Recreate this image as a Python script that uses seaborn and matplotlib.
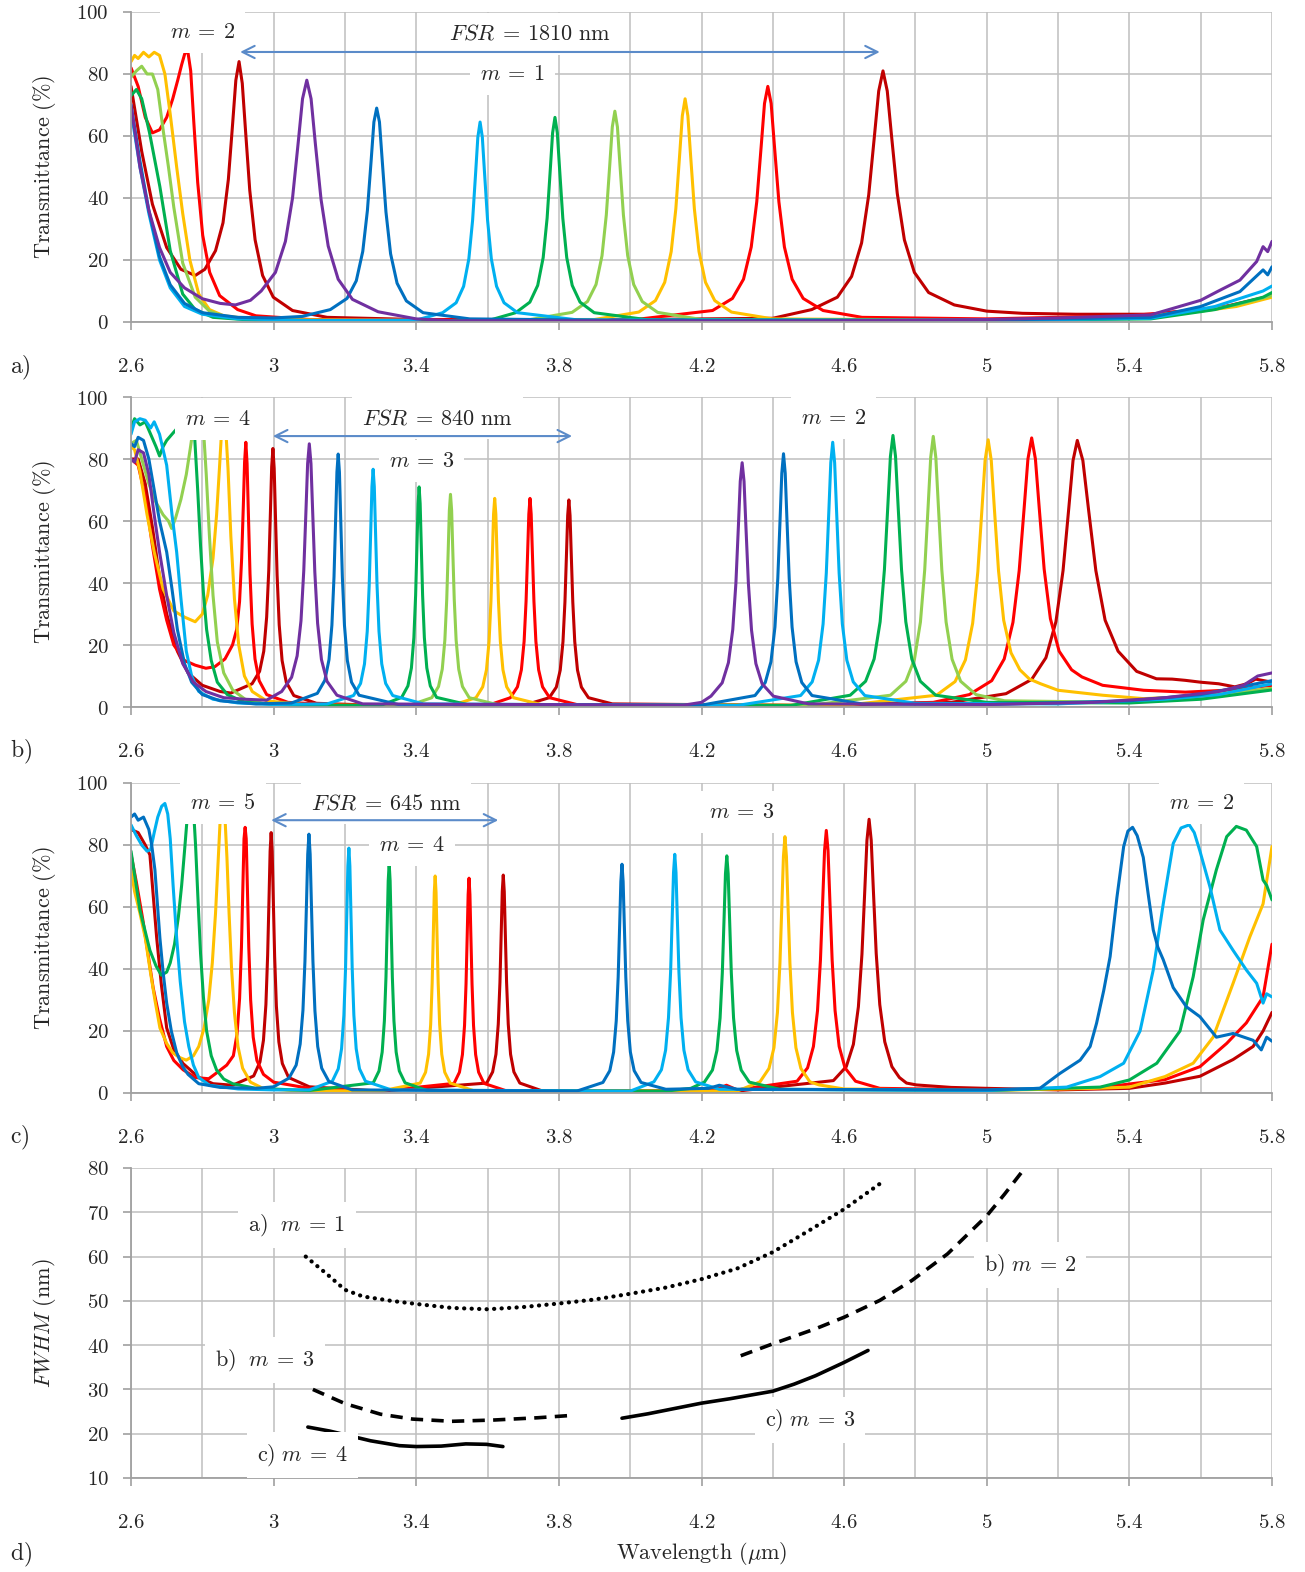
import numpy as np
import matplotlib
matplotlib.use('Agg')
import matplotlib.pyplot as plt
import seaborn as sns
from matplotlib.ticker import FuncFormatter

# ---- a) transmittance, m = 1 / m = 2 (wavelength um, T %) ----
A_DARK_RED = [(2.60, 76), (2.63, 55), (2.66, 38), (2.70, 24), (2.74, 17), (2.78, 15), (2.807, 17), (2.837, 23),
              (2.858, 32), (2.873, 46), (2.885, 64), (2.894, 78), (2.903, 84), (2.912, 77), (2.921, 62),
              (2.933, 42.5), (2.948, 26.5), (2.969, 15), (2.999, 8), (3.053, 3.7), (3.15, 1.5), (3.4, 0.8), (4.0, 0.8),
              (4.4, 1.2), (4.509, 4), (4.581, 8), (4.621, 14.7), (4.649, 25.5), (4.669, 41), (4.685, 60),
              (4.697, 74.5), (4.709, 81), (4.721, 74.5), (4.733, 60), (4.749, 41.5), (4.769, 26.5), (4.797, 16),
              (4.837, 9.5), (4.909, 5.5), (5.0, 3.5), (5.1, 2.8), (5.25, 2.5), (5.46, 2.5), (5.65, 4.5), (5.8, 8.5)]
A_RED = [(2.60, 82), (2.62, 76), (2.64, 66), (2.66, 61), (2.68, 62), (2.70, 66), (2.717, 72), (2.731, 78), (2.742, 83),
         (2.7506, 86.5), (2.759, 87.5), (2.7674, 81), (2.7758, 65), (2.787, 45), (2.801, 28), (2.8206, 16),
         (2.8486, 8.5), (2.899, 4), (2.95, 2), (3.1, 0.8), (4.0, 0.6), (4.231, 3.7), (4.2868, 7.6), (4.3178, 13.8),
         (4.3395, 24.2), (4.355, 38.8), (4.3674, 56.7), (4.3767, 70.5), (4.386, 76), (4.3953, 70.5), (4.4046, 56.7),
         (4.417, 38.8), (4.4325, 24.2), (4.4542, 13.8), (4.4852, 7.6), (4.541, 3.7), (4.65, 1.5), (5.0, 1), (5.4, 2),
         (5.6, 4), (5.7, 5.5), (5.8, 8.5)]
A_YELLOW = [(2.60, 84), (2.61, 86), (2.62, 85), (2.635, 87), (2.65, 85.5), (2.665, 87), (2.68, 86), (2.695, 80),
            (2.71, 67), (2.728, 50), (2.745, 35), (2.765, 20), (2.79, 9), (2.82, 4), (2.86, 2), (2.95, 0.8),
            (3.6, 0.4), (3.9, 0.8), (4.024, 3.2), (4.0708, 6.9), (4.0968, 12.8), (4.115, 22.7), (4.128, 36.5),
            (4.1384, 53.4), (4.1462, 66.5), (4.154, 72), (4.1618, 66.5), (4.1696, 53.4), (4.18, 36.5), (4.193, 22.7),
            (4.2112, 12.8), (4.2372, 6.9), (4.284, 3.2), (4.4, 1), (5.0, 0.6), (5.4, 1.5), (5.6, 3.5), (5.7, 5),
            (5.8, 8)]
A_LIGHT_GREEN = [(2.60, 79), (2.615, 81), (2.63, 82.5), (2.645, 80), (2.66, 80), (2.675, 75), (2.69, 62), (2.705, 50),
                 (2.72, 37), (2.745, 19), (2.78, 8), (2.82, 3.5), (2.87, 1.5), (3.0, 0.5), (3.7, 0.4), (3.837, 3.1),
                 (3.8802, 6.6), (3.9042, 12.1), (3.921, 21.4), (3.933, 34.5), (3.9426, 50.5), (3.9498, 62.9),
                 (3.957, 68), (3.9642, 62.9), (3.9714, 50.5), (3.981, 34.5), (3.993, 21.4), (4.0098, 12.1),
                 (4.0338, 6.6), (4.077, 3.1), (4.2, 0.8), (5.0, 0.5), (5.4, 1.5), (5.6, 3.5), (5.7, 5.5), (5.8, 8.5)]
A_GREEN = [(2.60, 73), (2.615, 75), (2.63, 72), (2.652, 61), (2.681, 43.6), (2.71, 23), (2.745, 9), (2.78, 4),
           (2.83, 1.5), (2.95, 0.5), (3.6, 0.4), (3.679, 3), (3.7186, 6.4), (3.7406, 11.8), (3.756, 20.8),
           (3.767, 33.5), (3.7758, 49), (3.7824, 61), (3.789, 66), (3.7956, 61), (3.8022, 49), (3.811, 33.5),
           (3.822, 20.8), (3.8374, 11.8), (3.8594, 6.4), (3.899, 3), (4.05, 0.7), (5.0, 0.5), (5.46, 1), (5.64, 4),
           (5.775, 8), (5.8, 9.5)]
A_LIGHT_BLUE = [(2.60, 68), (2.625, 50), (2.65, 35), (2.68, 20), (2.71, 11), (2.75, 5), (2.80, 2.5), (2.9, 1),
                (3.1, 0.5), (3.4, 0.6), (3.474, 3), (3.5118, 6.2), (3.5328, 11.5), (3.5475, 20.4), (3.558, 32.8),
                (3.5664, 47.9), (3.5727, 59.6), (3.579, 64.5), (3.5853, 59.6), (3.5916, 47.9), (3.6, 32.8),
                (3.6105, 20.4), (3.6252, 11.5), (3.6462, 6.2), (3.684, 3), (3.85, 0.7), (5.0, 0.5), (5.46, 1.2),
                (5.64, 5), (5.775, 10), (5.8, 11.6)]
A_BLUE = [(2.60, 70), (2.625, 52), (2.65, 36), (2.68, 21), (2.71, 12), (2.75, 6), (2.80, 3), (2.9, 1.5), (3.0, 1.3),
          (3.08, 1.8), (3.159, 4), (3.2058, 7.6), (3.2318, 13.3), (3.25, 22.8), (3.263, 36), (3.2734, 52),
          (3.2812, 64.5), (3.289, 69), (3.2968, 64.5), (3.3046, 52), (3.315, 35.5), (3.328, 22), (3.3462, 12.5),
          (3.3722, 6.8), (3.419, 3), (3.55, 1), (4.0, 0.5), (5.0, 0.6), (5.46, 1.5), (5.6, 5), (5.71, 9.8),
          (5.775, 16.8), (5.788, 15.2), (5.8, 17.8)]
A_PURPLE = [(2.60, 70), (2.625, 50), (2.65, 36), (2.68, 24), (2.71, 16), (2.75, 11), (2.80, 7.5), (2.85, 6),
            (2.893, 5.5), (2.935, 7), (2.965, 10), (3.005, 16), (3.033, 26), (3.053, 40), (3.069, 58), (3.081, 72),
            (3.093, 78), (3.105, 72), (3.117, 57.5), (3.133, 39.5), (3.153, 24.5), (3.181, 13.8), (3.221, 7.3),
            (3.293, 3.3), (3.4, 1), (3.5, 0.4), (4.5, 0.3), (5.0, 0.8), (5.2, 1.3), (5.46, 2.3), (5.6, 7), (5.65, 10),
            (5.71, 13.5), (5.757, 19.5), (5.775, 24.3), (5.788, 22.7), (5.8, 26)]

# ---- b) transmittance, m = 4 / 3 / 2 ----
B_DARK_RED = [(2.60, 80), (2.62, 80), (2.64, 72), (2.66, 58), (2.68, 42), (2.70, 30), (2.73, 18), (2.76, 11), (2.80, 7),
              (2.85, 5), (2.88, 4.5), (2.9395, 7.5), (2.9606, 11.5), (2.9723, 18), (2.9804, 29), (2.9863, 44),
              (2.991, 63), (2.9945, 77.5), (2.998, 83.4), (3.0015, 77), (3.005, 62), (3.0097, 42.5), (3.0156, 26.5),
              (3.0237, 15), (3.0354, 8), (3.0565, 3.7), (3.12, 1.2), (3.3, 0.5), (3.70, 0.5), (3.773, 3),
              (3.7928, 6.4), (3.8038, 11.9), (3.8115, 21.1), (3.817, 33.9), (3.8214, 49.6), (3.8247, 61.8),
              (3.828, 66.8), (3.8313, 61.8), (3.8346, 49.6), (3.839, 33.9), (3.8445, 21.1), (3.8522, 11.9),
              (3.8632, 6.4), (3.883, 3), (3.95, 1), (4.5, 0.5), (4.9, 1.5), (5.054, 4.3), (5.126, 8.9), (5.166, 15.9),
              (5.194, 27.5), (5.214, 44), (5.23, 64), (5.242, 79.5), (5.254, 86), (5.2696, 79.5), (5.2852, 64),
              (5.306, 44), (5.332, 28), (5.3684, 18), (5.4204, 11.5), (5.476, 9.1), (5.52, 9), (5.557, 8.6),
              (5.60, 8), (5.65, 7.5), (5.696, 6.5), (5.73, 7.5), (5.754, 9), (5.8, 8)]
B_RED = [(2.60, 80), (2.62, 78), (2.64, 68), (2.66, 52), (2.68, 38), (2.70, 28), (2.72, 20), (2.75, 15), (2.78, 13.5),
         (2.81, 12.5), (2.835, 13), (2.8635, 15.5), (2.8846, 20), (2.8963, 25), (2.9044, 34), (2.9103, 48),
         (2.915, 65), (2.9185, 79), (2.922, 85.4), (2.9255, 78.5), (2.929, 63), (2.9337, 43), (2.9396, 26.8),
         (2.9477, 15.5), (2.9594, 8.5), (2.9805, 4), (3.04, 1.5), (3.2, 0.5), (3.60, 0.5), (3.664, 3), (3.6838, 6.5),
         (3.6948, 12), (3.7025, 21.2), (3.708, 34.2), (3.7124, 50), (3.7157, 62.2), (3.719, 67.3), (3.7223, 62.2),
         (3.7256, 50), (3.730, 34.2), (3.7355, 21.2), (3.7432, 12), (3.7542, 6.5), (3.774, 3), (3.85, 0.8),
         (4.5, 0.5), (4.85, 1.5), (4.951, 4), (5.014, 8.5), (5.049, 15.5), (5.0735, 27.3), (5.091, 44),
         (5.105, 64.3), (5.1155, 80), (5.126, 86.8), (5.1365, 80), (5.147, 64.5), (5.161, 44.5), (5.1785, 28.5),
         (5.203, 18), (5.238, 12), (5.267, 9.7), (5.325, 7), (5.44, 5.4), (5.557, 4.8), (5.67, 5.4), (5.8, 7)]
B_YELLOW = [(2.60, 84), (2.61, 83), (2.625, 76), (2.645, 62), (2.665, 50), (2.69, 38), (2.72, 31), (2.75, 29),
            (2.78, 27.5), (2.80, 30), (2.815, 36), (2.83, 48), (2.84, 62), (2.848, 77), (2.854, 89), (2.86, 95),
            (2.866, 89), (2.872, 77), (2.88, 55), (2.89, 35), (2.902, 20), (2.918, 10), (2.94, 5), (2.98, 2),
            (3.1, 0.6), (3.5, 0.5), (3.5675, 3), (3.5864, 6.5), (3.5969, 12), (3.6042, 21.2), (3.6095, 34.2),
            (3.6137, 50), (3.6168, 62.2), (3.62, 67.3), (3.6232, 62.2), (3.6263, 50), (3.6305, 34.2), (3.6358, 21.2),
            (3.6431, 12), (3.6536, 6.5), (3.6725, 3), (3.75, 0.8), (4.6, 0.5), (4.859, 3.8), (4.9112, 8.2),
            (4.9402, 15.2), (4.9605, 27), (4.975, 43.6), (4.9866, 63.9), (4.9953, 79.5), (5.004, 86.2),
            (5.0127, 79.5), (5.0214, 64), (5.033, 44), (5.0475, 28), (5.068, 17.5), (5.093, 12), (5.12, 9),
            (5.151, 7.5), (5.2, 5.4), (5.325, 3.8), (5.44, 2.7), (5.6, 3.5), (5.8, 6)]
B_LIGHT_GREEN = [(2.60, 85), (2.615, 86), (2.63, 80), (2.65, 72), (2.67, 66), (2.69, 62), (2.705, 60), (2.714, 57.6),
                 (2.725, 61), (2.74, 67), (2.755, 75), (2.767, 84), (2.777, 92), (2.785, 97), (2.79, 98), (2.795, 97),
                 (2.803, 90), (2.811, 75), (2.82, 55), (2.83, 36), (2.842, 21), (2.86, 11), (2.885, 5.5), (2.92, 2.5),
                 (2.97, 1.2), (3.1, 0.5), (3.38, 0.5), (3.4435, 3), (3.4624, 6.6), (3.4729, 12.2), (3.4802, 21.6),
                 (3.4855, 34.8), (3.4897, 50.9), (3.4928, 63.4), (3.496, 68.6), (3.4992, 63.4), (3.5023, 50.9),
                 (3.5065, 34.8), (3.5118, 21.6), (3.5191, 12.2), (3.5296, 6.6), (3.5485, 3), (3.63, 0.7), (4.5, 0.5),
                 (4.73, 3.8), (4.7732, 8.3), (4.7972, 15.4), (4.814, 27.4), (4.826, 44.2), (4.8356, 64.7),
                 (4.8428, 80.5), (4.85, 87.3), (4.8572, 80.5), (4.8644, 64.7), (4.874, 44.2), (4.886, 27.4),
                 (4.9028, 15.4), (4.9268, 8.3), (4.97, 4), (5.05, 2), (5.4, 1.5), (5.6, 3), (5.8, 6)]
B_GREEN = [(2.60, 90), (2.61, 93), (2.625, 91), (2.64, 92), (2.655, 88), (2.67, 84), (2.68, 81), (2.69, 84), (2.70, 86),
           (2.715, 88), (2.73, 90), (2.745, 93), (2.755, 96), (2.765, 97), (2.772, 94), (2.779, 86), (2.787, 70),
           (2.795, 52), (2.803, 37), (2.812, 25), (2.825, 15), (2.842, 8), (2.87, 4), (2.92, 1.5), (3.05, 0.5),
           (3.30, 0.5), (3.359, 3.1), (3.3766, 6.8), (3.3864, 12.6), (3.3933, 22.4), (3.3982, 36), (3.4021, 52.7),
           (3.4051, 65.6), (3.408, 71), (3.4109, 65.6), (3.4139, 52.7), (3.4178, 36), (3.4227, 22.4), (3.4296, 12.6),
           (3.4394, 6.8), (3.457, 3.1), (3.55, 0.6), (4.45, 0.5), (4.617, 3.8), (4.6602, 8.3), (4.6842, 15.5),
           (4.701, 27.5), (4.713, 44.3), (4.7226, 64.9), (4.7298, 80.8), (4.737, 87.6), (4.7442, 80.8),
           (4.7514, 64.9), (4.761, 44.3), (4.773, 27.5), (4.7898, 15.5), (4.8138, 8.3), (4.857, 3.8), (5.0, 1.5),
           (5.4, 1.3), (5.6, 2.5), (5.8, 5.5)]
B_LIGHT_BLUE = [(2.60, 88), (2.61, 92), (2.625, 93), (2.64, 92.5), (2.655, 90), (2.665, 92), (2.68, 88), (2.70, 78),
                (2.715, 62), (2.728, 50), (2.74, 35), (2.755, 18), (2.77, 10), (2.79, 5), (2.83, 2.5), (2.9, 1.3),
                (3.0, 0.8), (3.15, 1), (3.224, 3.7), (3.2438, 7.6), (3.2548, 13.9), (3.2625, 24.4), (3.268, 39.2),
                (3.2724, 57.2), (3.2757, 71.1), (3.279, 76.7), (3.2823, 71.1), (3.2856, 57.2), (3.29, 39.2),
                (3.2955, 24.4), (3.3032, 13.9), (3.3142, 7.6), (3.334, 3.7), (3.42, 1), (4.3, 0.5), (4.478, 3.7),
                (4.5104, 8.1), (4.5284, 15.1), (4.541, 26.8), (4.55, 43.2), (4.5572, 63.3), (4.5626, 78.8),
                (4.568, 85.4), (4.5734, 78.8), (4.5788, 63.3), (4.586, 43.2), (4.595, 26.8), (4.6076, 15.1),
                (4.6256, 8.1), (4.658, 3.7), (4.8, 1.2), (5.2, 1), (5.5, 2.5), (5.65, 4), (5.8, 7.5)]
B_BLUE = [(2.60, 85), (2.61, 84), (2.62, 87), (2.635, 86), (2.65, 80), (2.665, 70), (2.68, 60), (2.70, 50),
          (2.715, 38), (2.73, 25), (2.75, 14), (2.77, 8), (2.80, 4), (2.85, 2), (2.95, 1), (3.05, 1.3), (3.1225, 4.4),
          (3.1436, 8.6), (3.1553, 15.3), (3.1634, 26.4), (3.1693, 42), (3.174, 61.2), (3.1775, 75.8), (3.181, 81.6),
          (3.1845, 75.8), (3.188, 61.2), (3.1927, 42), (3.1986, 26.4), (3.2067, 15), (3.2184, 8), (3.2395, 3.8),
          (3.35, 0.8), (4.2, 0.6), (4.35, 3.7), (4.3788, 7.9), (4.3948, 14.6), (4.406, 25.8), (4.414, 41.5),
          (4.4204, 60.6), (4.4252, 75.4), (4.43, 81.7), (4.4348, 75.4), (4.4396, 60.6), (4.446, 41.5), (4.454, 25.8),
          (4.4652, 14.6), (4.4812, 7.9), (4.51, 3.7), (4.65, 1), (5.0, 0.8), (5.4, 2), (5.6, 4), (5.8, 8.5)]
B_PURPLE = [(2.60, 80), (2.61, 79), (2.62, 83), (2.635, 82), (2.65, 75), (2.665, 62), (2.68, 50), (2.70, 36),
            (2.72, 24), (2.745, 14), (2.775, 8), (2.81, 5), (2.86, 3), (2.92, 2.5), (2.98, 2.2), (3.0225, 5),
            (3.0504, 9.6), (3.0659, 16.5), (3.0767, 27.8), (3.0845, 44), (3.0907, 63.5), (3.0953, 78.5), (3.1, 84.9),
            (3.1047, 78.5), (3.1093, 63.5), (3.1155, 43.5), (3.1233, 27), (3.1341, 15.3), (3.1496, 8.3),
            (3.1775, 3.8), (3.25, 1), (4.15, 0.6), (4.2, 1.5), (4.2265, 3.5), (4.258, 7.8), (4.2755, 14.3),
            (4.2877, 25), (4.2965, 40), (4.3035, 58.4), (4.3087, 72.8), (4.314, 78.8), (4.3193, 72.8),
            (4.3245, 58.4), (4.3315, 39.9), (4.3403, 24.8), (4.3525, 14), (4.37, 7.5), (4.4015, 3.5), (4.5, 1),
            (5.0, 0.8), (5.3, 1.5), (5.5, 3), (5.65, 5), (5.72, 7), (5.76, 10), (5.8, 11)]

# ---- c) transmittance, m = 5 / 4 / 3 / 2 ----
C_DARK_RED = [(2.60, 85), (2.62, 84), (2.64, 80), (2.653, 76.8), (2.672, 50), (2.685, 35), (2.70, 21), (2.72, 14),
              (2.746, 9.5), (2.79, 5), (2.83, 3), (2.885, 2.5), (2.944, 5.5), (2.9616, 10), (2.9714, 17),
              (2.9783, 28.5), (2.9832, 44.5), (2.9871, 63), (2.9901, 78), (2.993, 84), (2.9959, 78), (2.9989, 63),
              (3.0028, 44), (3.0077, 28), (3.0146, 16.5), (3.0244, 9.5), (3.042, 5), (3.1, 2), (3.3, 0.6),
              (3.5975, 3.2), (3.6142, 6.8), (3.6235, 12.5), (3.63, 22.2), (3.6347, 35.7), (3.6384, 52.2),
              (3.6412, 65), (3.644, 70.3), (3.6468, 65), (3.6496, 52.2), (3.6533, 35.7), (3.658, 22.2),
              (3.6645, 12.5), (3.6738, 6.8), (3.6905, 3.2), (3.75, 0.8), (4.3, 0.6), (4.57, 4), (4.606, 8.5),
              (4.626, 15.7), (4.64, 27.8), (4.65, 44.8), (4.658, 65.5), (4.664, 81.5), (4.67, 88.3), (4.676, 81.5),
              (4.682, 65.5), (4.69, 45), (4.70, 28.5), (4.714, 16.5), (4.734, 8.5), (4.755, 5), (4.775, 3.2),
              (4.803, 2.6), (4.9, 1.8), (5.0, 1.5), (5.2, 1), (5.4, 1.5), (5.5, 3.2), (5.598, 5.4), (5.691, 10.8),
              (5.747, 15), (5.775, 20), (5.8, 26)]
C_RED = [(2.60, 77), (2.615, 68), (2.633, 56), (2.662, 34), (2.68, 24), (2.70, 15), (2.72, 10.5), (2.746, 7.5),
         (2.78, 5), (2.818, 4.6), (2.846, 7), (2.8685, 9), (2.887, 12), (2.8973, 19), (2.9045, 30.5), (2.9097, 47),
         (2.9138, 67), (2.9169, 82), (2.92, 85.7), (2.9231, 82), (2.9262, 67), (2.9303, 47), (2.9355, 30),
         (2.9427, 18), (2.953, 10.5), (2.9715, 6), (3.0, 3.5), (3.1, 1.5), (3.3, 0.6), (3.506, 3.1), (3.5211, 6.7),
         (3.5295, 12.4), (3.5354, 21.8), (3.5396, 35.2), (3.543, 51.4), (3.5455, 64), (3.548, 69.3), (3.5505, 64),
         (3.553, 51.4), (3.5564, 35.2), (3.5606, 21.8), (3.5665, 12.4), (3.5749, 6.7), (3.59, 3.1), (3.65, 0.8),
         (4.2, 0.6), (4.25, 1.5), (4.27, 2.5), (4.30, 1), (4.468, 3.8), (4.4975, 8.1), (4.5139, 15), (4.5254, 26.6),
         (4.5336, 42.9), (4.5402, 62.8), (4.5451, 78.2), (4.55, 84.7), (4.5549, 78.2), (4.5598, 62.8),
         (4.5664, 42.9), (4.5746, 26.6), (4.5861, 15), (4.6025, 8.1), (4.632, 3.8), (4.7, 1.5), (5.0, 1),
         (5.3, 1.5), (5.5, 4.3), (5.598, 8.5), (5.673, 16), (5.728, 22.6), (5.775, 31), (5.8, 48)]
C_YELLOW = [(2.60, 72), (2.61, 65), (2.625, 58), (2.64, 50), (2.653, 40), (2.667, 30), (2.681, 21), (2.70, 16),
            (2.717, 13), (2.735, 11.5), (2.755, 10.6), (2.775, 12), (2.79, 15), (2.805, 21), (2.818, 30), (2.828, 42),
            (2.837, 58), (2.844, 74), (2.85, 88), (2.854, 94), (2.858, 96), (2.863, 90), (2.869, 76), (2.875, 58),
            (2.882, 40), (2.89, 26), (2.9, 15), (2.913, 8), (2.935, 3.5), (2.97, 1.5), (3.05, 0.8), (3.3, 0.6),
            (3.411, 3.2), (3.4261, 6.7), (3.4345, 12.5), (3.4404, 22.1), (3.4446, 35.5), (3.448, 52), (3.4505, 64.7),
            (3.453, 70), (3.4555, 64.7), (3.458, 52), (3.4614, 35.5), (3.4656, 22.1), (3.4715, 12.5), (3.4799, 6.7),
            (3.495, 3.2), (3.56, 0.8), (4.3, 0.6), (4.364, 3.6), (4.3892, 7.9), (4.4032, 14.6), (4.413, 26),
            (4.42, 41.9), (4.4256, 61.3), (4.4298, 76.3), (4.434, 82.7), (4.4382, 76.3), (4.4424, 61.3),
            (4.448, 41.9), (4.455, 26), (4.4648, 14.6), (4.4788, 7.9), (4.504, 3.6), (4.53, 2.6), (4.6, 1.3),
            (5.0, 0.8), (5.3, 1.5), (5.4, 1.9), (5.5, 5.3), (5.579, 9.6), (5.635, 18), (5.691, 35.4), (5.738, 50.4),
            (5.775, 61), (5.8, 79.5)]
C_GREEN = [(2.60, 78), (2.625, 59), (2.653, 46), (2.67, 41), (2.685, 38), (2.70, 39), (2.71, 42), (2.722, 48),
           (2.733, 57), (2.742, 67), (2.75, 78), (2.757, 88), (2.763, 94), (2.769, 96), (2.775, 92), (2.781, 80),
           (2.788, 62), (2.795, 45), (2.803, 31), (2.812, 20), (2.825, 12), (2.84, 7.4), (2.86, 4.5), (2.885, 3),
           (2.95, 1.5), (3.1, 0.8), (3.2795, 3.3), (3.2955, 7.1), (3.3044, 13.2), (3.3106, 23.3), (3.3151, 37.5),
           (3.3187, 54.9), (3.3213, 68.4), (3.324, 74), (3.3267, 68.4), (3.3293, 54.9), (3.3329, 37.5),
           (3.3374, 23.3), (3.3436, 13.2), (3.3525, 7.1), (3.3685, 3.3), (3.43, 0.8), (4.1, 0.6), (4.17, 1.5),
           (4.208, 3.5), (4.2307, 7.4), (4.2433, 13.7), (4.2521, 24.2), (4.2584, 38.8), (4.2634, 56.7),
           (4.2672, 70.7), (4.271, 76.5), (4.2748, 70.7), (4.2786, 56.7), (4.2836, 38.8), (4.2899, 24.2),
           (4.2987, 13.7), (4.3113, 7.4), (4.334, 3.5), (4.42, 1.2), (5.0, 0.8), (5.318, 1.9), (5.4, 4.2),
           (5.477, 9.6), (5.542, 20), (5.579, 37.5), (5.607, 55.8), (5.644, 72), (5.673, 82.7), (5.70, 86),
           (5.728, 84.8), (5.757, 79.5), (5.775, 68.7), (5.785, 67), (5.8, 62.3)]
C_LIGHT_BLUE = [(2.60, 86.5), (2.615, 83), (2.63, 80), (2.645, 78), (2.655, 78.5), (2.665, 84), (2.675, 89),
                (2.686, 92.5), (2.695, 93.4), (2.703, 90), (2.71, 82), (2.718, 67), (2.728, 50), (2.738, 36),
                (2.75, 23), (2.762, 15), (2.775, 9), (2.79, 5), (2.82, 2.5), (2.9, 1.3), (3.0, 1), (3.1, 1),
                (3.1645, 3.8), (3.1812, 7.8), (3.1905, 14.3), (3.197, 25.1), (3.2017, 40.3), (3.2054, 58.9),
                (3.2082, 73.2), (3.211, 79), (3.2138, 73.2), (3.2166, 58.9), (3.2203, 40.3), (3.225, 25.1),
                (3.2315, 14.3), (3.2408, 7.8), (3.2575, 3.8), (3.33, 1), (4.0, 0.6), (4.0665, 3.6), (4.0876, 7.5),
                (4.0993, 13.8), (4.1074, 24.3), (4.1133, 39), (4.118, 57.1), (4.1215, 71.1), (4.125, 77),
                (4.1285, 71.1), (4.132, 57.1), (4.1367, 39), (4.1426, 24.3), (4.1507, 13.8), (4.1624, 7.5),
                (4.1835, 3.6), (4.25, 1.2), (5.0, 0.8), (5.224, 1.9), (5.318, 5.3), (5.384, 9.6), (5.43, 20),
                (5.467, 39.7), (5.495, 61), (5.523, 80.5), (5.545, 85.5), (5.568, 86.5), (5.582, 84), (5.598, 78),
                (5.626, 66.5), (5.654, 52.6), (5.691, 46), (5.728, 39.7), (5.757, 35.4), (5.775, 29), (5.785, 32),
                (5.8, 31)]
C_BLUE = [(2.60, 89), (2.61, 90), (2.62, 88), (2.635, 89), (2.65, 85), (2.658, 80), (2.667, 72), (2.674, 61),
          (2.681, 50), (2.69, 39), (2.70, 29), (2.713, 20), (2.728, 13), (2.745, 8.5), (2.76, 6), (2.79, 3),
          (2.85, 1.8), (2.95, 1.5), (3.0, 2), (3.043, 4.8), (3.0632, 9), (3.0744, 15.8), (3.0822, 26.7),
          (3.0878, 42.5), (3.0923, 61.9), (3.0956, 77), (3.099, 83.5), (3.1024, 77), (3.1057, 61.9), (3.1102, 42.5),
          (3.1158, 26.5), (3.1236, 15), (3.1348, 8), (3.155, 3.7), (3.22, 1), (3.85, 0.6), (3.9235, 3.4),
          (3.9428, 7.2), (3.9535, 13.2), (3.9609, 23.3), (3.9663, 37.4), (3.9706, 54.7), (3.9738, 68.2),
          (3.977, 73.8), (3.9802, 68.2), (3.9834, 54.7), (3.9877, 37.4), (3.9931, 23.3), (4.0005, 13.2),
          (4.0112, 7.2), (4.0305, 3.4), (4.1, 1.2), (4.22, 1.5), (4.25, 2.5), (4.3, 1.2), (5.0, 1), (5.149, 1.5),
          (5.205, 6.3), (5.262, 10.6), (5.29, 15), (5.308, 22.5), (5.328, 33), (5.346, 44), (5.365, 63),
          (5.384, 79.5), (5.396, 84.5), (5.409, 85.7), (5.422, 83), (5.439, 76), (5.453, 64), (5.467, 52.6),
          (5.48, 47), (5.495, 43), (5.523, 34), (5.56, 27.8), (5.598, 24.6), (5.644, 18), (5.691, 19.2),
          (5.747, 17), (5.77, 13.9), (5.785, 18), (5.8, 16.7)]

# ---- d) FWHM (nm) vs peak wavelength ----
D_A_M1_X = [3.09, 3.15, 3.2, 3.25, 3.33, 3.4, 3.5, 3.6, 3.7, 3.8, 3.9, 4.0, 4.1, 4.2, 4.3, 4.4, 4.5, 4.6, 4.71]
D_A_M1_Y = [60, 56, 52.5, 51, 50, 49.3, 48.4, 48.1, 48.6, 49.4, 50.3, 51.6, 53, 54.9, 57.3, 61, 65.8, 70.7, 77]
D_B_M3_X = [3.11, 3.2, 3.3, 3.39, 3.5, 3.62, 3.74, 3.83]
D_B_M3_Y = [30, 26.8, 24.4, 23.3, 22.8, 23.1, 23.6, 24.1]
D_B_M2_X = [4.31, 4.35, 4.4, 4.52, 4.6, 4.7, 4.79, 4.89, 5.0, 5.05, 5.11, 5.25]
D_B_M2_Y = [37.6, 38.8, 40.3, 43.7, 46.3, 50.1, 54.6, 60.6, 69.2, 74.1, 80.3, 95]
D_C_M3_X = [3.977, 4.05, 4.2, 4.28, 4.4, 4.46, 4.52, 4.6, 4.667]
D_C_M3_Y = [23.5, 24.5, 26.9, 27.9, 29.6, 31.2, 33.1, 36.1, 38.8]
D_C_M4_X = [3.096, 3.157, 3.272, 3.353, 3.4, 3.47, 3.539, 3.597, 3.643]
D_C_M4_Y = [21.5, 20.6, 18.4, 17.3, 17.1, 17.2, 17.7, 17.6, 17.1]

COLORS = {'dark_red': '#C00000', 'red': '#FF0000', 'yellow': '#FFC000', 'light_green': '#92D050',
          'green': '#00B050', 'light_blue': '#00B0F0', 'blue': '#0070C0', 'purple': '#7030A0'}

PANEL_A = [('dark_red', A_DARK_RED), ('red', A_RED), ('yellow', A_YELLOW), ('light_green', A_LIGHT_GREEN),
           ('green', A_GREEN), ('light_blue', A_LIGHT_BLUE), ('blue', A_BLUE), ('purple', A_PURPLE)]
PANEL_B = [('dark_red', B_DARK_RED), ('red', B_RED), ('yellow', B_YELLOW), ('light_green', B_LIGHT_GREEN),
           ('green', B_GREEN), ('light_blue', B_LIGHT_BLUE), ('blue', B_BLUE), ('purple', B_PURPLE)]
PANEL_C = [('dark_red', C_DARK_RED), ('red', C_RED), ('yellow', C_YELLOW), ('green', C_GREEN),
           ('light_blue', C_LIGHT_BLUE), ('blue', C_BLUE)]

sns.set_style('white')
plt.rcParams['mathtext.fontset'] = 'cm'
plt.rcParams['font.family'] = ['DejaVu Serif']

GRID = '#BFBFBF'
AXIS = '#A0A0A0'
ARROW = '#5B8BC9'
FS = 16
box = dict(boxstyle='square,pad=0.45', fc='white', ec='none')
fmt = FuncFormatter(lambda v, p: r'$%g$' % round(v, 2))

fig = plt.figure(figsize=(13.05, 15.72), dpi=100)
bottoms = [0.79517, 0.55025, 0.30471, 0.05980]
axes = [fig.add_axes([0.1004, b, 0.8743, 0.1972]) for b in bottoms]


def style_axis(ax, ymin, ymax, ystep):
    ax.set_xlim(2.6, 5.8)
    ax.set_ylim(ymin, ymax)
    ax.set_xticks(np.round(np.arange(2.6, 5.81, 0.4), 1))
    ax.set_xticks(np.round(np.arange(2.6, 5.81, 0.2), 1), minor=True)
    ax.set_yticks(np.arange(ymin, ymax + 0.1, ystep))
    ax.xaxis.set_major_formatter(fmt)
    ax.yaxis.set_major_formatter(fmt)
    ax.grid(which='both', color=GRID, lw=1.1)
    ax.set_axisbelow(True)
    for s in ['top', 'right']:
        ax.spines[s].set_visible(False)
    for s in ['left', 'bottom']:
        ax.spines[s].set_color(AXIS)
        ax.spines[s].set_linewidth(1.3)
    ax.tick_params(axis='x', which='major', direction='out', length=6, width=1.2, color=AXIS,
                   pad=19, labelsize=15, bottom=True)
    ax.tick_params(axis='y', which='major', direction='out', length=6, width=1.2, color=AXIS,
                   pad=10, labelsize=15, left=True)
    ax.tick_params(which='minor', length=0)


def label(ax, x, y, s):
    ax.text(x, y, s, fontsize=FS, ha='center', va='center', bbox=box, zorder=5)


def fsr_arrow(ax, x0, x1, y):
    ax.annotate('', xy=(x1, y), xytext=(x0, y), zorder=6,
                arrowprops=dict(arrowstyle='<->', color=ARROW, lw=1.5, shrinkA=0, shrinkB=0, mutation_scale=22))


for ax, series in zip(axes[:3], [PANEL_A, PANEL_B, PANEL_C]):
    for name, pts in series:
        xs, ys = zip(*pts)
        sns.lineplot(x=list(xs), y=list(ys), ax=ax, color=COLORS[name], lw=2.2,
                     sort=False, estimator=None)
    style_axis(ax, 0, 100, 20)
    ax.set_xlabel('')
    ax.set_ylabel(r'$\mathrm{Transmittance\ (\%)}$', fontsize=FS)
    ax.yaxis.set_label_coords(-0.064, 0.5)

ax_a, ax_b, ax_c, ax_d = axes

label(ax_a, 2.80, 93.5, r'$m\:=\:2$')
label(ax_a, 3.72, 93.0, r'$FSR\:=\:1810\ \mathrm{nm}$')
label(ax_a, 3.67, 80.0, r'$m\:=\:1$')
fsr_arrow(ax_a, 2.906, 4.70, 87.1)

label(ax_b, 2.844, 93.0, r'$m\:=\:4$')
label(ax_b, 3.46, 93.2, r'$FSR\:=\:840\ \mathrm{nm}$')
label(ax_b, 3.415, 79.4, r'$m\:=\:3$')
label(ax_b, 4.57, 93.2, r'$m\:=\:2$')
fsr_arrow(ax_b, 2.998, 3.837, 87.4)

label(ax_c, 2.858, 93.5, r'$m\:=\:5$')
label(ax_c, 3.315, 93.5, r'$FSR\:=\:645\ \mathrm{nm}$')
label(ax_c, 3.388, 80.0, r'$m\:=\:4$')
label(ax_c, 4.313, 90.6, r'$m\:=\:3$')
label(ax_c, 5.603, 93.5, r'$m\:=\:2$')
fsr_arrow(ax_c, 2.993, 3.63, 88.0)

# d) FWHM
sns.lineplot(x=D_A_M1_X, y=D_A_M1_Y, ax=ax_d, color='black', lw=3.0, sort=False, estimator=None,
             linestyle=(0, (0.05, 1.75)), dash_capstyle='round')
sns.lineplot(x=D_B_M3_X, y=D_B_M3_Y, ax=ax_d, color='black', lw=2.6, sort=False, estimator=None,
             linestyle=(0, (3.4, 2.3)))
sns.lineplot(x=D_B_M2_X, y=D_B_M2_Y, ax=ax_d, color='black', lw=2.6, sort=False, estimator=None,
             linestyle=(0, (3.4, 2.3)))
sns.lineplot(x=D_C_M3_X, y=D_C_M3_Y, ax=ax_d, color='black', lw=2.6, sort=False, estimator=None)
sns.lineplot(x=D_C_M4_X, y=D_C_M4_Y, ax=ax_d, color='black', lw=2.6, sort=False, estimator=None)
style_axis(ax_d, 10, 80, 10)
ax_d.set_ylabel(r'$FWHM\ \mathrm{(nm)}$', fontsize=FS)
ax_d.yaxis.set_label_coords(-0.064, 0.5)
ax_d.set_xlabel(r'$\mathrm{Wavelength\ (}\mu\mathrm{m)}$', fontsize=FS)
ax_d.xaxis.set_label_coords(0.5, -0.2)

label(ax_d, 3.066, 67.1, r'$\mathrm{a)}\ \ m\:=\:1$')
label(ax_d, 2.976, 36.6, r'$\mathrm{b)}\ \ m\:=\:3$')
label(ax_d, 3.08, 15.2, r'$\mathrm{c)}\ m\:=\:4$')
label(ax_d, 4.504, 23.1, r'$\mathrm{c)}\ m\:=\:3$')
label(ax_d, 5.121, 58.1, r'$\mathrm{b)}\ m\:=\:2$')

# panel letters
for letter, ypix in zip('abcd', [368, 752, 1138, 1555]):
    fig.text(10 / 1305, 1 - ypix / 1572, r'$\mathrm{%s)}$' % letter, fontsize=17, ha='left', va='center')

fig.savefig('out.png', dpi=100)
